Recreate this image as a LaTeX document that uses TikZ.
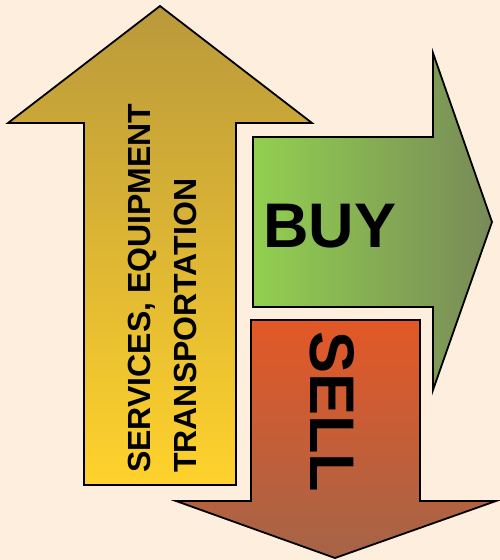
\documentclass[tikz,border=0pt]{standalone}
\usepackage{fontspec}
\setmainfont{Liberation Sans}
\definecolor{bg}{HTML}{FDEEDD}
\definecolor{upTop}{HTML}{BA993B}
\definecolor{upBot}{HTML}{FFD22C}
\definecolor{gnL}{HTML}{92D050}
\definecolor{gnR}{HTML}{788A58}
\definecolor{rdT}{HTML}{E35827}
\definecolor{rdB}{HTML}{A56448}
\begin{document}
\begin{tikzpicture}[x=1pt,y=-1pt,
  outline/.style={draw=black,line width=1.8pt,line join=miter},
  lbl/.style={inner sep=0pt,font=\bfseries}]
\fill[bg] (0,0) rectangle (500,560);
\useasboundingbox (0,0) rectangle (500,560);
% up arrow
\shade[outline,top color=upTop,bottom color=upBot]
  (160,6) -- (312,123) -- (236,123) -- (236,485) -- (84,485) -- (84,123) -- (8,123) -- cycle;
% right arrow (BUY)
\shade[outline,left color=gnL,right color=gnR,shading angle=90]
  (253,137) -- (433,137) -- (433,53) -- (492,222) -- (433,390) -- (433,307) -- (253,307) -- cycle;
% down arrow (SELL)
\shade[outline,top color=rdT,bottom color=rdB]
  (251,320) -- (420,320) -- (420,501) -- (496,501) -- (335,558) -- (176,501) -- (251,501) -- cycle;
\node[lbl,rotate=90,anchor=base west] (svc) at (150,473) {\fontsize{32}{38}\selectfont SERVICES, EQUIPMENT};
\node[lbl,rotate=90,anchor=base west] (trn) at (196,473) {\fontsize{32}{38}\selectfont TRANSPORTATION};
\node[lbl,anchor=base west] (buy) at (263,247) {\fontsize{63}{70}\selectfont BUY};
\node[lbl,rotate=-90,anchor=base west] (sell) at (310,331) {\fontsize{63}{70}\selectfont SELL};
\end{tikzpicture}
\end{document}
